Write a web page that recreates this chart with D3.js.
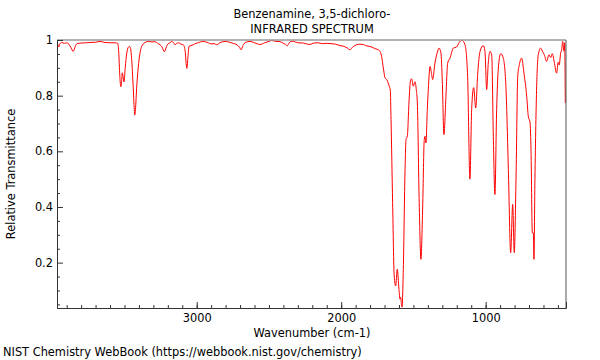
<!DOCTYPE html>
<html>
<head>
<meta charset="utf-8">
<script src="https://cdn.jsdelivr.net/npm/d3@7"></script>
<style>
  html, body { margin: 0; padding: 0; background: #fff; }
  svg { display: block; font-family: "DejaVu Sans", sans-serif; }
</style>
</head>
<body>
<svg id="chart" width="600" height="360"></svg>
<script>
// ---- data ----
const titleLines = ["Benzenamine, 3,5-dichloro-", "INFRARED SPECTRUM"];
const xLabel = "Wavenumber (cm-1)";
const yLabel = "Relative Transmittance";
const credit = "NIST Chemistry WebBook (https://webbook.nist.gov/chemistry)";

const xMajorTicks = [3000, 2000, 1000];
const xMinorTicks = d3.range(3900, 400, -100);
const yMajorTicks = [0.2, 0.4, 0.6, 0.8, 1];
const yMinorTicks = [0.05, 0.1, 0.15, 0.25, 0.3, 0.35, 0.45, 0.5, 0.55, 0.65, 0.7, 0.75, 0.85, 0.9, 0.95];

const xDomain = [3967, 444];
const yDomain = [0.037, 1];

const wavenumber = [
  3962, 3955, 3948, 3934, 3915, 3900, 3885, 3870, 3854, 3840, 3828, 3800, 3770, 3740, 3700,
  3669, 3635, 3600, 3565, 3547, 3540, 3535, 3528, 3525, 3520, 3515, 3510, 3503, 3495, 3484,
  3472, 3466, 3458, 3450, 3440, 3432, 3429, 3424, 3415, 3405, 3399, 3390, 3381, 3360, 3335,
  3310, 3289, 3270, 3254, 3240, 3224, 3212, 3201, 3185, 3173, 3160, 3150, 3138, 3127, 3108,
  3093, 3080, 3072, 3068, 3062, 3053, 3040, 3023, 3005, 2989, 2960, 2943, 2920, 2900, 2880,
  2862, 2840, 2804, 2780, 2747, 2720, 2705, 2693, 2680, 2660, 2631, 2600, 2580, 2562, 2530,
  2500, 2481, 2450, 2424, 2400, 2385, 2373, 2360, 2345, 2331, 2300, 2262, 2240, 2216, 2190,
  2161, 2130, 2100, 2070, 2040, 2008, 1980, 1960, 1939, 1920, 1893, 1870, 1847, 1830, 1814,
  1795, 1778, 1760, 1743, 1730, 1720, 1710, 1704, 1697, 1690, 1683, 1675, 1665, 1660, 1655,
  1644, 1633, 1623, 1612, 1600, 1593, 1588, 1583, 1579, 1570, 1558, 1551, 1542, 1531, 1519,
  1512, 1501, 1489, 1480, 1473, 1460, 1448, 1436, 1425, 1420, 1413, 1404, 1397, 1385, 1375,
  1367, 1351, 1335, 1323, 1310, 1300, 1289, 1275, 1263, 1247, 1224, 1201, 1185, 1166, 1143,
  1125, 1109, 1097, 1083, 1069, 1055, 1039, 1016, 1005, 993, 982, 970, 958, 947, 936,
  924, 913, 896, 878, 859, 843, 827, 813, 802, 790, 778, 767, 751, 735, 716,
  705, 693, 686, 677, 670, 666, 659, 647, 636, 619, 608, 594, 578, 562, 550,
  539, 525, 509, 498, 491, 481, 474, 467, 463, 458, 453, 449
];
const transmittance = [
  0.987, 0.975, 0.985, 0.991, 0.988, 0.990, 0.985, 0.972, 0.959, 0.978, 0.987, 0.989, 0.990, 0.991, 0.992,
  0.995, 0.991, 0.990, 0.990, 0.988, 0.960, 0.900, 0.840, 0.832, 0.850, 0.882, 0.870, 0.849, 0.900, 0.953,
  0.975, 0.977, 0.970, 0.930, 0.835, 0.750, 0.730, 0.750, 0.834, 0.900, 0.929, 0.960, 0.977, 0.990, 0.995,
  0.993, 0.994, 0.988, 0.983, 0.975, 0.958, 0.972, 0.985, 0.990, 0.995, 0.990, 0.983, 0.988, 0.990, 0.985,
  0.983, 0.960, 0.910, 0.898, 0.930, 0.977, 0.980, 0.983, 0.988, 0.990, 0.995, 0.994, 0.990, 0.986, 0.987,
  0.983, 0.990, 0.995, 0.993, 0.988, 0.982, 0.975, 0.965, 0.980, 0.992, 0.995, 0.990, 0.986, 0.984, 0.990,
  0.995, 0.998, 0.995, 0.994, 0.988, 0.984, 0.979, 0.990, 0.995, 0.995, 0.990, 0.989, 0.986, 0.984, 0.989,
  0.990, 0.987, 0.988, 0.987, 0.985, 0.980, 0.977, 0.972, 0.965, 0.975, 0.983, 0.985, 0.984, 0.980, 0.978,
  0.976, 0.972, 0.968, 0.965, 0.958, 0.940, 0.905, 0.885, 0.864, 0.860, 0.857, 0.845, 0.830, 0.820, 0.714,
  0.415, 0.152, 0.116, 0.176, 0.104, 0.069, 0.075, 0.050, 0.040, 0.176, 0.535, 0.643, 0.655, 0.774, 0.858,
  0.860, 0.834, 0.850, 0.820, 0.774, 0.415, 0.212, 0.400, 0.643, 0.654, 0.630, 0.750, 0.822, 0.905, 0.880,
  0.858, 0.917, 0.955, 0.971, 0.955, 0.850, 0.660, 0.798, 0.917, 0.935, 0.971, 0.975, 0.990, 0.999, 0.983,
  0.870, 0.500, 0.750, 0.829, 0.756, 0.880, 0.959, 0.980, 0.960, 0.822, 0.917, 0.959, 0.945, 0.654, 0.445,
  0.750, 0.894, 0.951, 0.935, 0.822, 0.535, 0.236, 0.409, 0.236, 0.500, 0.870, 0.911, 0.935, 0.881, 0.798,
  0.726, 0.705, 0.600, 0.307, 0.307, 0.212, 0.500, 0.834, 0.947, 0.971, 0.960, 0.947, 0.923, 0.947, 0.937,
  0.951, 0.920, 0.881, 0.920, 0.910, 0.953, 0.965, 0.995, 0.980, 0.960, 0.990, 0.774
];

// ---- layout ----
const svg = d3.select("#chart");
const mLeft = 57, mRight = 566, mTop = 40, mBottom = 308;
const fontSize = 11.4;

const x = d3.scaleLinear().domain(xDomain).range([mLeft, mRight]);
const y = d3.scaleLinear().domain(yDomain).range([mBottom, mTop]);

const points = wavenumber.map((w, i) => [w, transmittance[i]]);

// clip
svg.append("defs").append("clipPath").attr("id", "clip")
  .append("rect").attr("x", mLeft).attr("y", mTop - 1).attr("width", mRight - mLeft).attr("height", mBottom - mTop + 1);

// spectrum
svg.append("path")
  .datum(points)
  .attr("clip-path", "url(#clip)")
  .attr("fill", "none")
  .attr("stroke", "#ff0000")
  .attr("stroke-width", 1)
  .attr("stroke-linejoin", "round")
  .attr("d", d3.line().x(d => x(d[0])).y(d => y(d[1])).curve(d3.curveMonotoneX));

// frame: top (gray) and right
svg.append("line").attr("x1", mLeft).attr("x2", mRight).attr("y1", mTop).attr("y2", mTop)
  .attr("stroke", "#999").attr("stroke-width", 1.5);
svg.append("line").attr("x1", mRight).attr("x2", mRight).attr("y1", mTop).attr("y2", mBottom)
  .attr("stroke", "#555").attr("stroke-width", 1);

// axes
const axisColor = "#333";
const gxMinor = svg.append("g").attr("transform", `translate(0,${mBottom})`)
  .call(d3.axisBottom(x).tickValues(xMinorTicks).tickSize(-3).tickFormat(""));
const gx = svg.append("g").attr("transform", `translate(0,${mBottom})`)
  .call(d3.axisBottom(x).tickValues(xMajorTicks).tickSize(-6).tickPadding(6).tickFormat(d3.format("d")));
const gyMinor = svg.append("g").attr("transform", `translate(${mLeft},0)`)
  .call(d3.axisLeft(y).tickValues(yMinorTicks).tickSize(-3).tickFormat(""));
const gy = svg.append("g").attr("transform", `translate(${mLeft},0)`)
  .call(d3.axisLeft(y).tickValues(yMajorTicks).tickSize(-6).tickPadding(4).tickFormat(d => String(d)));

[gxMinor, gx, gyMinor, gy].forEach(g => {
  g.select(".domain").attr("stroke", axisColor);
  g.selectAll(".tick line").attr("stroke", axisColor);
  g.selectAll(".tick text").attr("fill", "#000").attr("font-size", fontSize).attr("font-family", "DejaVu Sans");
});
gyMinor.select(".domain").remove();
gxMinor.select(".domain").remove();

// titles
svg.selectAll("text.title").data(titleLines).enter().append("text")
  .attr("class", "title")
  .attr("x", (mLeft + mRight) / 2 + 0.5)
  .attr("y", (d, i) => 18 + i * 15)
  .attr("text-anchor", "middle")
  .attr("font-size", fontSize)
  .attr("fill", "#000")
  .text(d => d);

svg.append("text")
  .attr("x", (mLeft + mRight) / 2 + 0.5)
  .attr("y", 336.5)
  .attr("text-anchor", "middle")
  .attr("font-size", fontSize)
  .attr("fill", "#000")
  .text(xLabel);

svg.append("text")
  .attr("transform", `translate(15,${(mTop + mBottom) / 2}) rotate(-90)`)
  .attr("text-anchor", "middle")
  .attr("font-size", fontSize)
  .attr("fill", "#000")
  .text(yLabel);

svg.append("text")
  .attr("x", 3)
  .attr("y", 356)
  .attr("font-size", fontSize)
  .attr("fill", "#000")
  .text(credit);
</script>
</body>
</html>
